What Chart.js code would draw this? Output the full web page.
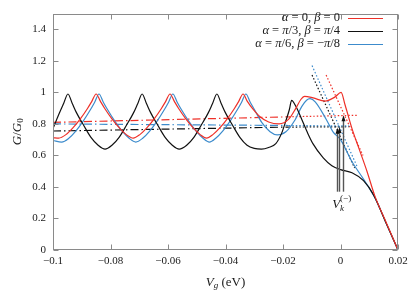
<!DOCTYPE html>
<html>
<head>
<meta charset="utf-8">
<script src="https://cdn.jsdelivr.net/npm/chart.js@4.4.1/dist/chart.umd.min.js"></script>
<style>
  html, body { margin: 0; padding: 0; background: #fff; }
  #wrap { width: 415px; height: 295px; }
</style>
</head>
<body>
<div id="wrap"><canvas id="chart" width="415" height="295"></canvas></div>
<script>
// Conductance G/G0 against gate voltage Vg (eV)

// alpha = 0, beta = 0 (red)
const redVg = [-0.1, -0.098, -0.0955, -0.093, -0.0905, -0.088, -0.0865, -0.085, -0.0835, -0.082,
  -0.0795, -0.077, -0.0745, -0.0721, -0.0698, -0.0673, -0.0648, -0.0623, -0.0608, -0.0593,
  -0.0578, -0.0563, -0.0538, -0.0513, -0.0488, -0.0466, -0.0444, -0.0419, -0.0394, -0.0369,
  -0.0354, -0.0339, -0.0324, -0.0305, -0.028, -0.025, -0.0214, -0.018, -0.0155, -0.0138,
  -0.0125, -0.0095, -0.0054, -0.002, 0.0002, 0.0016, 0.004, 0.0065, 0.0092, 0.012,
  0.016, 0.02];
const redG = [0.712, 0.71, 0.732, 0.776, 0.832, 0.898, 0.943, 0.99, 0.943, 0.898,
  0.832, 0.776, 0.732, 0.71, 0.732, 0.776, 0.832, 0.898, 0.943, 0.99,
  0.943, 0.898, 0.832, 0.776, 0.732, 0.71, 0.732, 0.776, 0.832, 0.898,
  0.943, 0.99, 0.943, 0.895, 0.845, 0.812, 0.80, 0.83, 0.90, 0.955,
  0.975, 0.965, 0.945, 0.97, 1.0, 0.92, 0.77, 0.64, 0.50, 0.34,
  0.17, 0.0];

// alpha = pi/3, beta = pi/4 (black)
const blackVg = [-0.1, -0.098, -0.0963, -0.0948, -0.0933, -0.0918, -0.0893, -0.0868, -0.0843, -0.0819,
  -0.0795, -0.077, -0.0745, -0.072, -0.0705, -0.069, -0.0675, -0.066, -0.0635, -0.061,
  -0.0585, -0.0561, -0.0535, -0.051, -0.0485, -0.046, -0.0445, -0.043, -0.0415, -0.04,
  -0.0375, -0.035, -0.0325, -0.03, -0.0275, -0.025, -0.0225, -0.0205, -0.019, -0.0178,
  -0.017, -0.0155, -0.0135, -0.0115, -0.0096, -0.006, -0.003, 0.0, 0.004, 0.008,
  0.0115, 0.016, 0.02];
const blackG = [0.77, 0.86, 0.93, 0.99, 0.93, 0.87, 0.79, 0.715, 0.665, 0.64,
  0.665, 0.715, 0.79, 0.87, 0.93, 0.99, 0.93, 0.87, 0.79, 0.715,
  0.665, 0.64, 0.665, 0.715, 0.79, 0.87, 0.93, 0.99, 0.93, 0.87,
  0.79, 0.715, 0.665, 0.645, 0.64, 0.65, 0.675, 0.74, 0.82, 0.89,
  0.95, 0.91, 0.83, 0.745, 0.675, 0.585, 0.535, 0.51, 0.49, 0.44,
  0.35, 0.165, 0.0];

// alpha = pi/6, beta = -pi/8 (blue)
const blueVg = [-0.1, -0.097, -0.0945, -0.092, -0.0895, -0.087, -0.0855, -0.084, -0.0825, -0.081,
  -0.0785, -0.076, -0.0735, -0.0712, -0.0688, -0.0663, -0.0638, -0.0613, -0.0598, -0.0583,
  -0.0568, -0.0553, -0.0528, -0.0503, -0.0478, -0.0456, -0.0434, -0.0409, -0.0384, -0.0359,
  -0.0344, -0.0329, -0.0314, -0.0299, -0.0274, -0.0245, -0.022, -0.019, -0.016, -0.0135,
  -0.0118, -0.0106, -0.0088, -0.005, -0.0026, 0.0, 0.004, 0.008, 0.012, 0.016,
  0.02];
const blueG = [0.695, 0.685, 0.709, 0.756, 0.818, 0.89, 0.938, 0.99, 0.938, 0.89,
  0.818, 0.756, 0.709, 0.685, 0.709, 0.756, 0.818, 0.89, 0.938, 0.99,
  0.938, 0.89, 0.818, 0.756, 0.709, 0.685, 0.709, 0.756, 0.818, 0.89,
  0.938, 0.99, 0.938, 0.89, 0.81, 0.75, 0.73, 0.75, 0.82, 0.91,
  0.95, 0.96, 0.94, 0.83, 0.75, 0.70, 0.56, 0.45, 0.33, 0.165,
  0.0];

// averaged levels (dash-dot), their dotted continuation, and dotted tangents
const redAvgVg = [-0.1, -0.018], redAvgG = [0.81, 0.845];
const redExtVg = [-0.018, 0.006], redExtG = [0.845, 0.855];
const blackAvgVg = [-0.1, -0.018], blackAvgG = [0.755, 0.78];
const blackExtVg = [-0.018, 0.003], blackExtG = [0.78, 0.782];
const blueAvgVg = [-0.1, -0.018], blueAvgG = [0.80, 0.79];
const blueExtVg = [-0.018, 0.003], blueExtG = [0.79, 0.787];
const redTanVg = [-0.005, 0.0078], redTanG = [1.11, 0.60];
const blackTanVg = [-0.0099, 0.0049], blackTanG = [1.11, 0.52];
const blueTanVg = [-0.0099, 0.006], blueTanG = [1.17, 0.52];

// V_k^(-) arrows
const arrowVg = [-0.0013, -0.0005, 0.0008];
const arrowTop = [0.775, 0.78, 0.855];
const arrowBase = 0.37;
const markLabelVg = 0.0004, markLabelG = 0.29;

// axis ticks
const xTicks = [-0.1, -0.08, -0.06, -0.04, -0.02, 0, 0.02];
const yTicks = [0, 0.2, 0.4, 0.6, 0.8, 1, 1.2, 1.4];

const legendLabels = ['α = 0, β = 0', 'α = π/3, β = π/4', 'α = π/6, β = −π/8'];

const RED = '#ee3028';
const BLACK = '#111111';
const BLUE = '#3c8bcc';

const pts = (xs, ys) => xs.map((x, i) => ({ x: x, y: ys[i] }));
const serif = '"Liberation Serif", "DejaVu Serif", serif';
const mathFont = (size, italic) => (italic ? 'italic ' : '') + size + 'px ' + serif;

// draw a run of [text, size, italic, dy] pieces
function drawRuns(ctx, runs, x, y, align) {
  let total = 0;
  runs.forEach(r => { ctx.font = mathFont(r[1], r[2]); total += ctx.measureText(r[0]).width; });
  let cx = align === 'right' ? x - total : align === 'center' ? x - total / 2 : x;
  ctx.textAlign = 'left';
  runs.forEach(r => {
    ctx.font = mathFont(r[1], r[2]);
    ctx.fillText(r[0], cx, y + (r[3] || 0));
    cx += ctx.measureText(r[0]).width;
  });
}

function mathRuns(text, size) {
  return text.match(/[α-ωA-Za-z]+|[^α-ωA-Za-z]+/g).map(t => [t, size, /[α-ωA-Za-z]/.test(t)]);
}

function curve(label, xs, ys, color) {
  return {
    label: label,
    data: pts(xs, ys),
    borderColor: color,
    borderWidth: 1.2,
    pointRadius: 0,
    cubicInterpolationMode: 'monotone',
    fill: false,
  };
}

function guide(xs, ys, color, dash) {
  return {
    data: pts(xs, ys),
    borderColor: color,
    borderWidth: 1.2,
    borderDash: dash,
    pointRadius: 0,
    tension: 0,
    fill: false,
  };
}

const DASHDOT = [8, 3, 1.5, 3];
const DOT = [1.5, 2];

// -------------------------------
// Frame, ticks, titles, legend, arrows
// -------------------------------
const decorations = {
  id: 'decorations',
  afterDatasetsDraw(chart) {
    const ctx = chart.ctx;
    const a = chart.chartArea;
    const xs = chart.scales.x, ys = chart.scales.y;
    ctx.save();

    // border box and mirrored inward ticks
    const L = Math.round(a.left) + 0.5, R = Math.round(a.right) - 0.5;
    const T = Math.round(a.top) + 0.5, B = Math.round(a.bottom) - 0.5;
    ctx.strokeStyle = '#8a8a8a';
    ctx.lineWidth = 1;
    ctx.strokeRect(L, T, R - L, B - T);
    ctx.beginPath();
    xTicks.forEach(v => {
      const px = Math.round(xs.getPixelForValue(v)) + 0.5;
      ctx.moveTo(px, B); ctx.lineTo(px, B - 5);
      ctx.moveTo(px, T); ctx.lineTo(px, T + 5);
    });
    yTicks.forEach(v => {
      const py = Math.round(ys.getPixelForValue(v)) + 0.5;
      ctx.moveTo(L, py); ctx.lineTo(L + 5, py);
      ctx.moveTo(R, py); ctx.lineTo(R - 5, py);
    });
    ctx.stroke();

    ctx.fillStyle = '#1a1a1a';
    ctx.textBaseline = 'middle';

    // axis titles
    drawRuns(ctx, [['V', 13, true], ['g', 9, true, 3], [' (eV)', 13, false]],
      (a.left + a.right) / 2, 283, 'center');
    ctx.save();
    ctx.translate(18, (a.top + a.bottom) / 2);
    ctx.rotate(-Math.PI / 2);
    drawRuns(ctx, [['G', 13, true], ['/', 13, false], ['G', 13, true], ['0', 9, false, 3]], 0, 0, 'center');
    ctx.restore();

    // legend, text right aligned, sample line to the right
    const colors = [RED, BLACK, BLUE];
    legendLabels.forEach((lab, i) => {
      const y = 18 + i * 13;
      drawRuns(ctx, mathRuns(lab, 12.5), 340, y, 'right');
      ctx.strokeStyle = colors[i];
      ctx.lineWidth = 1.2;
      ctx.beginPath();
      ctx.moveTo(348, y + 0.5); ctx.lineTo(383, y + 0.5);
      ctx.stroke();
    });

    // V_k arrows
    ctx.strokeStyle = '#555';
    ctx.fillStyle = '#111';
    ctx.lineWidth = 1.4;
    arrowVg.forEach((v, i) => {
      const px = Math.round(xs.getPixelForValue(v)) + 0.5;
      const yb = ys.getPixelForValue(arrowBase);
      const yt = ys.getPixelForValue(arrowTop[i]);
      ctx.beginPath();
      ctx.moveTo(px, yb); ctx.lineTo(px, yt + 5);
      ctx.stroke();
      ctx.beginPath();
      ctx.moveTo(px, yt); ctx.lineTo(px - 2, yt + 6); ctx.lineTo(px + 2, yt + 6);
      ctx.closePath();
      ctx.fill();
    });

    // V_k^(-) label
    ctx.fillStyle = '#1a1a1a';
    const lx = xs.getPixelForValue(markLabelVg), ly = ys.getPixelForValue(markLabelG);
    ctx.font = mathFont(13, true);
    const wV = ctx.measureText('V').width;
    ctx.font = mathFont(9, false);
    const wS = ctx.measureText('(−)').width;
    const x0 = lx - (wV + wS) / 2;
    ctx.textAlign = 'left';
    ctx.font = mathFont(13, true);
    ctx.fillText('V', x0, ly);
    ctx.font = mathFont(9, true);
    ctx.fillText('k', x0 + wV, ly + 4);
    ctx.font = mathFont(9, false);
    ctx.fillText('(−)', x0 + wV, ly - 6);

    ctx.restore();
  }
};

document.addEventListener('DOMContentLoaded', () => {
  const ctx = document.getElementById('chart');
  new Chart(ctx, {
    type: 'line',
    data: {
      datasets: [
        curve(legendLabels[0], redVg, redG, RED),
        curve(legendLabels[1], blackVg, blackG, BLACK),
        curve(legendLabels[2], blueVg, blueG, BLUE),
        guide(redAvgVg, redAvgG, RED, DASHDOT),
        guide(blueAvgVg, blueAvgG, BLUE, DASHDOT),
        guide(blackAvgVg, blackAvgG, BLACK, DASHDOT),
        guide(redExtVg, redExtG, RED, DOT),
        guide(blueExtVg, blueExtG, BLUE, DOT),
        guide(blackExtVg, blackExtG, BLACK, DOT),
        guide(redTanVg, redTanG, RED, DOT),
        guide(blueTanVg, blueTanG, BLUE, DOT),
        guide(blackTanVg, blackTanG, BLACK, DOT),
      ],
    },
    options: {
      responsive: false,
      animation: false,
      layout: { padding: { top: 9, right: 17, left: 0, bottom: 0 } },
      plugins: {
        legend: { display: false },
        tooltip: { enabled: false },
      },
      scales: {
        x: {
          type: 'linear',
          min: -0.1,
          max: 0.02,
          grid: { display: false, drawTicks: false },
          border: { display: false },
          afterBuildTicks: s => { s.ticks = xTicks.map(v => ({ value: v })); },
          afterFit: s => { s.height = 45; },
          ticks: {
            padding: 5,
            maxRotation: 0,
            color: '#1a1a1a',
            font: { family: serif, size: 11 },
            callback: v => String(v).replace('-', '−'),
          },
        },
        y: {
          min: 0,
          max: 1.5,
          grid: { display: false, drawTicks: false },
          border: { display: false },
          afterBuildTicks: s => { s.ticks = yTicks.map(v => ({ value: v })); },
          afterFit: s => { s.width = 53; },
          ticks: {
            padding: 7,
            color: '#1a1a1a',
            font: { family: serif, size: 11 },
            callback: v => String(v),
          },
        },
      },
    },
    plugins: [decorations],
  });
});
</script>
</body>
</html>
